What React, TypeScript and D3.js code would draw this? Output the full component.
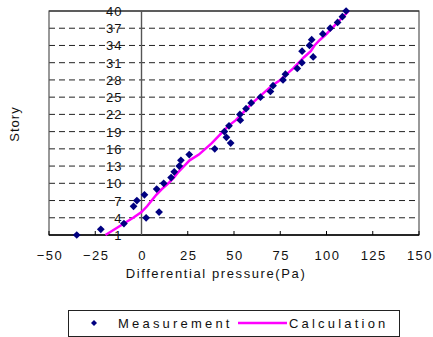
import * as d3 from 'd3';
import React, { useRef, useEffect } from 'react';

// story number for each measured / calculated value
const stories = [1, 2, 3, 4, 5, 6, 7, 8, 9, 10, 11, 12, 13, 14, 15, 16, 17, 18, 19, 20,
    21, 22, 23, 24, 25, 26, 27, 28, 29, 30, 31, 32, 33, 34, 35, 36, 37, 38, 39, 40];

// differential pressure (Pa)
const measured = [-35, -22, -9.5, 2.5, 9.5, -4.3, -2.5, 1.6, 8.2, 12,
    16, 17.7, 20.4, 21.3, 25.8, 39.6, 48.2, 45.9, 44.8, 47.3,
    53.4, 53.2, 56.5, 59.3, 64.3, 69.7, 71.1, 76.5, 77.8, 84.2,
    86.7, 92.8, 86.8, 90.8, 92, 98, 102, 106, 108.6, 110.6];

const calculated = [-19.5, -14.5, -9.5, -4.5, 0, 3, 5.5, 8, 11, 14.5,
    17.5, 20, 23, 26, 31, 34.5, 38, 41, 44, 47,
    51, 54, 57, 60, 63.5, 67, 70.5, 75, 78.5, 82,
    85, 88, 91.5, 93.5, 96.5, 100, 103, 106, 109, 112];

const xTicks = [-50, -25, 0, 25, 50, 75, 100, 125, 150];
const yTicks = [1, 4, 7, 10, 13, 16, 19, 22, 25, 28, 31, 34, 37, 40];

const FONT = '"Liberation Sans", Arial, sans-serif';

function App() {
    const ref = useRef<SVGSVGElement>(null);
    const width = 433, height = 337;

    useEffect(() => {
        draw();
    }, []);

    const draw = () => {
        const svg = d3.select(ref.current);
        svg.selectAll("*").remove();

        const left = 49, right = 419, top = 11, bottom = 235;

        const x = d3.scaleLinear().domain([-50, 150]).range([left, right]);
        const y = d3.scaleLinear().domain([1, 40]).range([bottom, top]);

        svg.append("rect")
            .attr("width", width).attr("height", height)
            .attr("fill", "white");

        // dashed gridlines
        svg.selectAll(".grid")
            .data(yTicks.filter(d => d > 1 && d < 40))
            .enter().append("line")
            .attr("x1", left).attr("x2", right)
            .attr("y1", d => y(d)).attr("y2", d => y(d))
            .attr("stroke", "#222")
            .attr("stroke-width", 1)
            .attr("stroke-dasharray", "6,4");

        // plot frame
        svg.append("rect")
            .attr("x", left).attr("y", top)
            .attr("width", right - left).attr("height", bottom - top)
            .attr("fill", "none")
            .attr("stroke", "#555")
            .attr("stroke-width", 1.2);
        svg.append("line")
            .attr("x1", left).attr("x2", right)
            .attr("y1", y(40)).attr("y2", y(40))
            .attr("stroke", "#222");

        // bottom axis
        svg.append("line")
            .attr("x1", left).attr("x2", right)
            .attr("y1", bottom).attr("y2", bottom)
            .attr("stroke", "#000").attr("stroke-width", 1.5);
        svg.selectAll(".xtick")
            .data(xTicks)
            .enter().append("line")
            .attr("x1", d => x(d)).attr("x2", d => x(d))
            .attr("y1", bottom).attr("y2", bottom - 4)
            .attr("stroke", "#000");
        svg.selectAll(".xlab")
            .data(xTicks)
            .enter().append("text")
            .attr("x", d => x(d) + 1)
            .attr("y", 260)
            .attr("text-anchor", "middle")
            .style("font-family", FONT)
            .style("font-size", "13px")
            .style("letter-spacing", "1.5px")
            .style("fill", "#111")
            .text(d => d < 0 ? "\u2212" + Math.abs(d) : String(d));

        // y axis crosses at x = 0
        svg.append("line")
            .attr("x1", x(0)).attr("x2", x(0))
            .attr("y1", top).attr("y2", bottom)
            .attr("stroke", "#555").attr("stroke-width", 1.4);
        svg.selectAll(".ylab")
            .data(yTicks)
            .enter().append("text")
            .attr("x", x(0) - 19)
            .attr("y", d => y(d) + 5)
            .attr("text-anchor", "end")
            .style("font-family", FONT)
            .style("font-size", "13px")
            .style("letter-spacing", "1px")
            .style("fill", "#111")
            .text(d => d);

        // axis titles
        svg.append("text")
            .attr("x", 216).attr("y", 278)
            .attr("text-anchor", "middle")
            .style("font-family", FONT)
            .style("font-size", "13px")
            .style("letter-spacing", "1.6px")
            .style("fill", "#111")
            .text("Differential pressure(Pa)");
        svg.append("text")
            .attr("transform", "translate(19,124) rotate(-90)")
            .attr("text-anchor", "middle")
            .style("font-family", FONT)
            .style("font-size", "13px")
            .style("letter-spacing", "1px")
            .style("fill", "#111")
            .text("Story");

        // calculation line
        const line = d3.line<number>()
            .x(d => x(d))
            .y((d, i) => y(stories[i]));
        svg.append("path")
            .datum(calculated)
            .attr("d", line)
            .attr("fill", "none")
            .attr("stroke", "#FF00FF")
            .attr("stroke-width", 2.5);

        // measurement points
        const diamond = d3.symbol().type(d3.symbolSquare).size(30);
        svg.selectAll(".pt")
            .data(measured)
            .enter().append("path")
            .attr("d", diamond)
            .attr("transform", (d, i) => "translate(" + x(d) + "," + y(stories[i]) + ") rotate(45)")
            .attr("fill", "#000080");

        // legend
        const lg = svg.append("g");
        lg.append("rect")
            .attr("x", 68.5).attr("y", 310.5)
            .attr("width", 331).attr("height", 26)
            .attr("fill", "white")
            .attr("stroke", "#222");
        lg.append("path")
            .attr("d", d3.symbol().type(d3.symbolSquare).size(18))
            .attr("transform", "translate(94,323) rotate(45)")
            .attr("fill", "#000080");
        lg.append("text")
            .attr("x", 118).attr("y", 328)
            .style("font-family", FONT)
            .style("font-size", "13px")
            .style("letter-spacing", "3.2px")
            .style("fill", "#111")
            .text("Measurement");
        lg.append("line")
            .attr("x1", 238).attr("x2", 287)
            .attr("y1", 323).attr("y2", 323)
            .attr("stroke", "#FF00FF")
            .attr("stroke-width", 2.5);
        lg.append("text")
            .attr("x", 289).attr("y", 328)
            .style("font-family", FONT)
            .style("font-size", "13px")
            .style("letter-spacing", "3.2px")
            .style("fill", "#111")
            .text("Calculation");
    };

    return (
        <svg ref={ref} width={width} height={height}
            style={{ position: "absolute", left: 0, top: 0 }}>
        </svg>
    );
}

export default App;
